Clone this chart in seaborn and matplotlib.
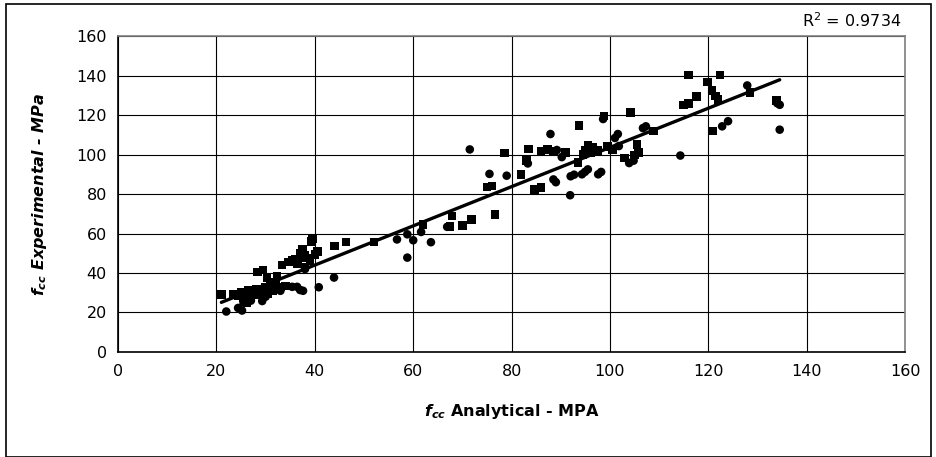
import numpy as np
import pandas as pd
import seaborn as sns
import matplotlib.pyplot as plt
from matplotlib.patches import Rectangle

# series 1 (squares)
sq_x = [21.0, 23.5, 24.5, 25.0, 25.5, 26.0, 26.5, 26.2, 27.0, 27.5, 28.0, 28.3, 28.8, 29.5, 29.5,
        30.0, 30.3, 30.5, 31.0, 31.5, 32.0, 32.3, 32.5, 33.0, 33.3, 34.0, 34.6, 35.5, 36.0, 36.5,
        37.0, 37.4, 37.5, 38.0, 38.0, 38.6, 39.0, 39.3, 39.5, 40.0, 40.5, 44.0, 46.3, 52.0,
        62.0, 67.5, 67.9, 70.0, 71.8, 75.0, 76.0, 76.6, 78.6, 81.9, 83.0, 83.4, 84.6, 86.0, 86.0,
        87.3, 88.5, 90.9, 93.7, 93.5, 94.5, 95.0, 95.5, 96.0, 96.5, 97.5, 98.8, 99.5, 100.5,
        103.0, 104.2, 105.0, 105.5, 105.8, 108.8,
        114.9, 116.0, 116.0, 117.6, 119.8, 120.7, 120.8, 121.5, 122.0, 122.4, 128.5, 133.9]
sq_y = [29.0, 29.0, 28.5, 30.0, 27.5, 29.5, 31.0, 24.8, 28.0, 30.5, 32.0, 40.5, 29.0, 41.5, 31.0,
        33.0, 37.5, 29.5, 34.0, 31.0, 35.5, 38.5, 32.0, 33.0, 44.0, 33.5, 45.6, 46.5, 47.0, 44.5,
        50.0, 47.6, 52.0, 43.0, 49.0, 47.6, 46.0, 56.0, 57.5, 49.5, 51.0, 53.7, 55.6, 55.6,
        64.5, 63.5, 68.8, 64.0, 67.0, 83.5, 84.0, 69.6, 100.7, 89.8, 97.0, 102.9, 82.4, 83.3, 101.7,
        102.6, 101.5, 100.9, 114.7, 96.0, 100.0, 102.0, 104.5, 101.0, 103.5, 102.0, 119.5, 104.0, 102.5,
        98.2, 121.4, 99.7, 105.0, 101.0, 112.0,
        125.0, 140.3, 126.0, 129.3, 136.8, 132.5, 112.0, 129.6, 128.0, 140.3, 131.3, 127.5]

# series 2 (circles)
ci_x = [22.0, 24.4, 25.2, 25.5, 27.0, 28.0, 29.3, 30.0, 31.0, 33.0, 35.4, 36.4, 37.0, 37.6, 38.0,
        40.8, 43.9, 56.7, 58.8, 58.8, 60.0, 61.6, 63.6, 66.9, 71.5, 75.5, 79.0, 83.3, 87.9, 88.5,
        89.0, 89.2, 90.2, 91.9, 92.0, 92.7, 94.3, 94.9, 95.5, 97.6, 98.2, 98.6, 101.0, 101.6,
        101.8, 103.9, 104.8, 106.7, 107.3, 114.3, 122.8, 124.0, 127.9, 134.5, 134.5, 134.0]
ci_y = [20.5, 22.3, 21.0, 25.0, 26.0, 29.0, 25.8, 28.0, 31.0, 31.0, 33.0, 33.0, 31.4, 31.0, 42.0,
        32.8, 37.7, 57.0, 59.6, 47.8, 56.6, 60.8, 55.6, 63.4, 102.6, 90.2, 89.3, 95.5, 110.4, 87.4,
        86.0, 102.3, 98.7, 79.4, 89.0, 89.8, 90.0, 91.2, 92.5, 90.0, 91.2, 118.0, 108.4, 110.4,
        104.3, 95.7, 96.9, 113.4, 114.3, 99.5, 114.3, 116.9, 135.0, 125.2, 112.6, 126.0]

r2_label = "R$^2$ = 0.9734"

df = pd.concat([
    pd.DataFrame({"analytical": sq_x, "experimental": sq_y, "series": "A"}),
    pd.DataFrame({"analytical": ci_x, "experimental": ci_y, "series": "B"}),
], ignore_index=True)

sns.set_style("white")
plt.rcParams['font.family'] = ['DejaVu Sans']
plt.rcParams['mathtext.fontset'] = 'custom'
plt.rcParams['mathtext.rm'] = 'DejaVu Sans'
plt.rcParams['mathtext.it'] = 'DejaVu Sans:italic:bold'
plt.rcParams['mathtext.bf'] = 'DejaVu Sans:bold'
plt.rcParams['text.color'] = 'black'
plt.rcParams['axes.labelcolor'] = 'black'
plt.rcParams['xtick.color'] = 'black'
plt.rcParams['ytick.color'] = 'black'

fig = plt.figure(figsize=(9.37, 4.57), dpi=100)
ax = fig.add_axes([0.126, 0.2298, 0.840, 0.6912])

sns.scatterplot(data=df, x="analytical", y="experimental", style="series",
                markers={"A": "s", "B": "o"}, color="black", s=38, linewidth=0,
                legend=False, ax=ax, zorder=3)
sns.regplot(data=df, x="analytical", y="experimental", scatter=False, ci=None,
            color="black", line_kws={"linewidth": 2.4}, ax=ax)

ax.set_xlim(0, 160)
ax.set_ylim(0, 160)
ax.set_xticks(range(0, 161, 20))
ax.set_yticks(range(0, 161, 20))
ax.grid(True, color="black", linewidth=0.8)
ax.set_axisbelow(True)
for s in ax.spines.values():
    s.set_color("#808080")
    s.set_linewidth(1.2)
ax.spines["left"].set_color("black")
ax.spines["bottom"].set_color("black")
ax.tick_params(axis="both", labelsize=11.5, length=4, width=0.8, color="black",
               labelcolor="black", pad=5)
ax.tick_params(axis="y", direction="inout", length=6)
ax.tick_params(axis="x", direction="out")

ax.set_xlabel(r"$f$$_{cc}$ Analytical - MPA", fontsize=11.5, fontweight="bold", labelpad=16)
ax.set_ylabel(r"$f_{cc}$ Experimental - MPa", fontsize=11.5, fontweight="bold",
              fontstyle="italic", labelpad=20)

fig.text(0.962, 0.955, r2_label, ha="right", va="center", fontsize=11.5)

fig.patches.append(Rectangle((6 / 937, 0), 925 / 937, 453 / 457, transform=fig.transFigure,
                             fill=False, edgecolor="black", linewidth=1.2))

fig.savefig("out.png", dpi=100)
